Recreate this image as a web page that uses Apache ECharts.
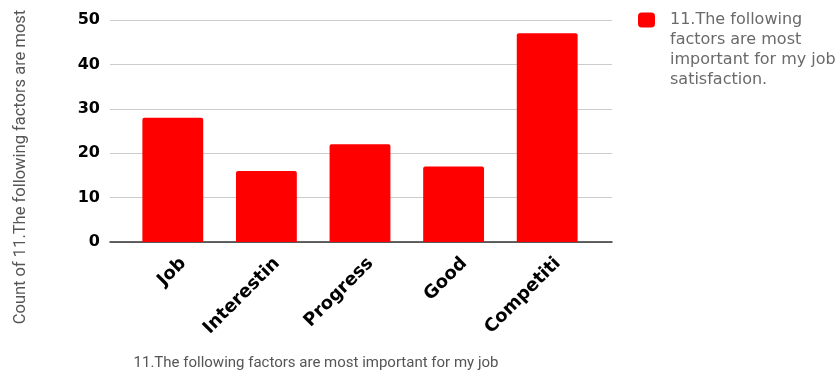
<!DOCTYPE html>
<html><head><meta charset="utf-8">
<script src="https://cdn.jsdelivr.net/npm/echarts@6/dist/echarts.min.js"></script>
<style>html,body{margin:0;padding:0;background:#fff}#c{width:840px;height:375px}</style>
</head><body><div id="c"></div>
<script>
const categories = ["Job", "Interestin", "Progress", "Good", "Competiti"];
const counts = [28, 16, 22, 17, 47];
const seriesName = "11.The following factors are most important for my job satisfaction.";
const legendLines = ["11.The following", "factors are most", "important for my job", "satisfaction."];
const yTitle = "Count of 11.The following factors are most";
const xTitle = "11.The following factors are most important for my job";

const chart = echarts.init(document.getElementById('c'));
chart.setOption({
  animation: false,
  grid: [
    {left: 126, right: 246, top: 20, bottom: 133},
    {left: 110, right: 228, top: 20, bottom: 133}
  ],
  xAxis: [
    {type: 'category', gridIndex: 0, data: categories,
     axisLine: {show: false}, axisTick: {show: false},
     axisLabel: {rotate: 45, margin: 8, verticalAlign: 'top', padding: [6, 0, 0, 0],
       color: '#000', fontWeight: 'bold', fontSize: 18, fontFamily: 'DejaVu Sans', interval: 0}},
    {type: 'value', gridIndex: 1, min: 0, max: 1,
     axisLine: {show: true, lineStyle: {color: '#333', width: 1.5}},
     axisTick: {show: false}, axisLabel: {show: false}, splitLine: {show: false}}
  ],
  yAxis: [
    {type: 'value', gridIndex: 0, min: 0, max: 50, interval: 10,
     axisLabel: {show: false}, splitLine: {show: false}, axisLine: {show: false}, axisTick: {show: false}},
    {type: 'value', gridIndex: 1, min: 0, max: 50, interval: 10, z: 0,
     axisLabel: {color: '#000', fontWeight: 'bold', fontSize: 16, fontFamily: 'DejaVu Sans', margin: 10},
     splitLine: {lineStyle: {color: '#cccccc'}}, axisLine: {show: false}, axisTick: {show: false}}
  ],
  legend: {
    left: 638, top: -50, orient: 'vertical', padding: 0,
    itemWidth: 17, itemHeight: 15, itemGap: 8,
    formatter: () => "\n\n\n" + legendLines.join("\n"),
    textStyle: {color: '#6a6a6a', fontSize: 16, fontFamily: 'DejaVu Sans', lineHeight: 20, padding: [0, 0, 0, 10]}
  },
  graphic: [
    {type: 'text', x: 21, y: 167, rotation: Math.PI/2, style: {text: yTitle, fill: '#555', font: '16.5px Roboto', align: 'center', verticalAlign: 'middle'}},
    {type: 'text', x: 316, y: 363, style: {text: xTitle, fill: '#555', font: '15px Roboto', align: 'center', verticalAlign: 'middle'}}
  ],
  series: [{
    name: seriesName, type: 'bar', xAxisIndex: 0, yAxisIndex: 0,
    data: counts, barCategoryGap: '35%',
    itemStyle: {color: '#ff0000', borderRadius: [2,2,0,0]}
  }]
});
</script></body></html>
